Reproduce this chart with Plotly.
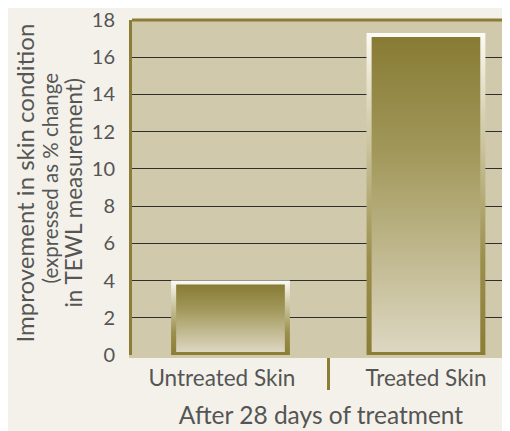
import plotly.graph_objects as go

# ---- data ----
categories = ["Untreated Skin", "Treated Skin"]
values = [4.0, 17.3]
y_ticks = [0, 2, 4, 6, 8, 10, 12, 14, 16, 18]
y_title_lines = ["Improvement in skin condition", "(expressed as % change", "in TEWL measurement)"]
x_title = "After 28 days of treatment"

# ---- style ----
OLIVE = "#8b7d35"
PLOT_BG = "#d1c9ab"
PAPER_BG = "#f3f1e9"
TEXT = "#555555"
FONT = "Lato"

HW = 0.304      # half bar width (x units)
BX = 0.026      # side border
BT = 0.215      # top border
BB = 0.16       # bottom border

fig = go.Figure()

for i, (cat, v) in enumerate(zip(categories, values)):
    # outer (border) rectangle with white->olive gradient
    fig.add_trace(go.Scatter(
        x=[i - HW, i + HW, i + HW, i - HW, i - HW],
        y=[0, 0, v, v, 0],
        mode="lines", line=dict(width=0, color="rgba(0,0,0,0)"),
        fill="toself",
        fillgradient=dict(type="vertical",
                          colorscale=[[0, "#8b7d35"], [0.3, "#9a8f4c"], [0.75, "#d8d2b4"], [1, "#fcfbf5"]]),
        hoverinfo="skip", showlegend=False))
    # inner fill with olive->light gradient
    fig.add_trace(go.Scatter(
        x=[i - HW + BX, i + HW - BX, i + HW - BX, i - HW + BX, i - HW + BX],
        y=[BB, BB, v - BT, v - BT, BB],
        mode="lines", line=dict(width=0, color="rgba(0,0,0,0)"),
        fill="toself",
        fillgradient=dict(type="vertical",
                          colorscale=[[0, "#ddd7c2"], [0.27, "#c4bc95"], [0.65, "#a09658"], [1, "#877b34"]]),
        hoverinfo="skip", showlegend=False))

tick_text = [categories[0] + "\u00a0\u00a0\u00a0", categories[1]]

fig.update_layout(
    width=510, height=431,
    margin=dict(l=124, r=8, t=12, b=84, autoexpand=False),
    paper_bgcolor=PAPER_BG, plot_bgcolor=PLOT_BG,
    font=dict(family=FONT, color=TEXT),
    xaxis=dict(
        range=[-0.504, 1.43], automargin=False,
        tickvals=list(range(len(categories))), ticktext=tick_text,
        ticks="outside", ticklen=1, tickcolor="rgba(0,0,0,0)",
        showgrid=False, zeroline=False,
        tickfont=dict(size=22.5, color=TEXT),
        showline=True, linecolor=PLOT_BG, linewidth=3, layer="below traces",
        minor=dict(tickvals=[0.5], ticks="outside", ticklen=32, tickwidth=3, tickcolor=OLIVE, showgrid=False),
        title=dict(text=x_title, font=dict(size=24.5, color=TEXT), standoff=17),
        fixedrange=True,
    ),
    yaxis=dict(
        range=[0, 18], tickvals=y_ticks, automargin=False,
        ticks="outside", ticklen=10, tickcolor="rgba(0,0,0,0)",
        tickfont=dict(size=20, color=TEXT),
        ticklabeloverflow="allow",
        showgrid=True, gridcolor="#2e2e2e", gridwidth=1,
        zeroline=False,
        showline=True, linecolor=OLIVE, linewidth=3,
        fixedrange=True,
    ),
    shapes=[dict(type="line", xref="paper", yref="paper", x0=0, x1=1, y0=1, y1=1,
                 line=dict(color=OLIVE, width=3))],
)

y_pos = [0.512, 0.527, 0.485]
x_shift = [-108, -82, -58]
sizes = [24, 20.5, 22.5]
for txt, yp, xs, sz in zip(y_title_lines, y_pos, x_shift, sizes):
    fig.add_annotation(text=txt, xref="paper", yref="paper", x=0, y=yp,
                       xshift=xs, xanchor="center", yanchor="middle",
                       textangle=-90, showarrow=False,
                       font=dict(size=sz, color=TEXT, family=FONT))

fig.write_html("out.html")
